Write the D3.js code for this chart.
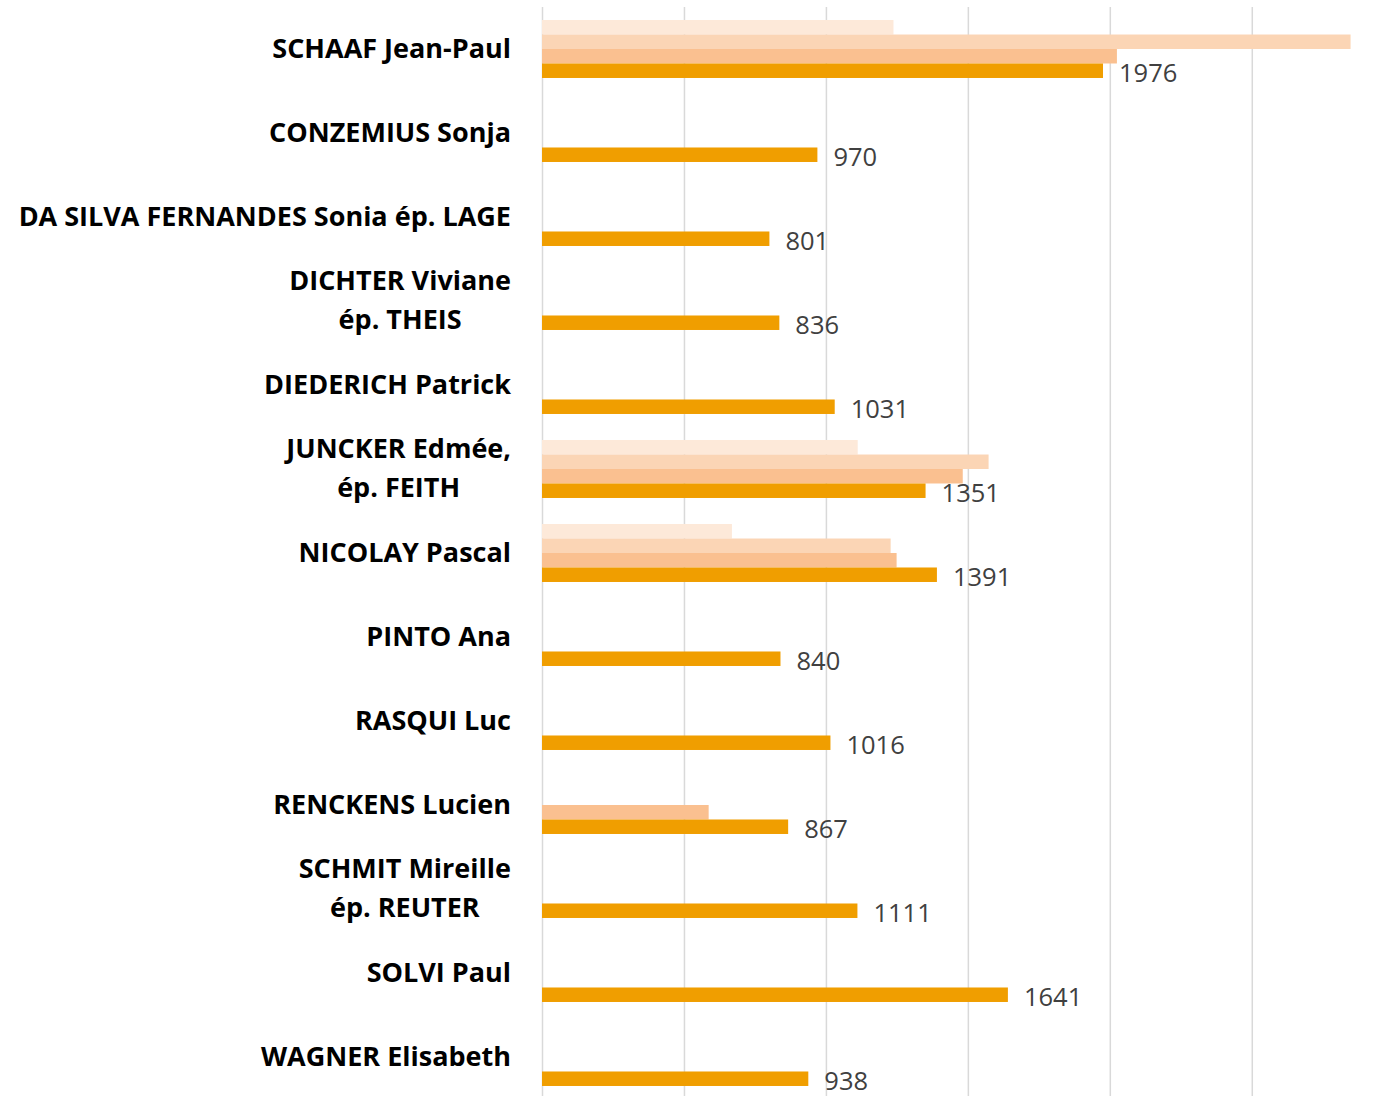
<!DOCTYPE html>
<html>
<head>
<meta charset="utf-8">
<script src="https://cdn.jsdelivr.net/npm/d3@7"></script>
<style>
  body { margin: 0; background: #fff; }
  svg { display: block; }
  .cat { font-family: "Open Sans", sans-serif; font-weight: bold; font-size: 27px; fill: #000; }
  .val { font-family: "Open Sans", sans-serif; font-size: 25.5px; fill: #404040; }
</style>
</head>
<body>
<div class="chart-box"></div>
<script>
/* global d3 */

// category labels (lines split where the original wraps)
const names = [
  ["SCHAAF Jean-Paul"],
  ["CONZEMIUS Sonja"],
  ["DA SILVA FERNANDES Sonia ép. LAGE"],
  ["DICHTER Viviane", "ép. THEIS"],
  ["DIEDERICH Patrick"],
  ["JUNCKER Edmée,", "ép. FEITH"],
  ["NICOLAY Pascal"],
  ["PINTO Ana"],
  ["RASQUI Luc"],
  ["RENCKENS Lucien"],
  ["SCHMIT Mireille", "ép. REUTER"],
  ["SOLVI Paul"],
  ["WAGNER Elisabeth"]
];

// four series, top (lightest) to bottom (darkest); null = no bar
const series1 = [1238, null, null, null, null, 1112, 669, null, null, null, null, null, null];
const series2 = [2848, null, null, null, null, 1573, 1228, null, null, null, null, null, null];
const series3 = [2025, null, null, null, null, 1482, 1249, null, null, 587, null, null, null];
const series4 = [1976, 970, 801, 836, 1031, 1351, 1391, 840, 1016, 867, 1111, 1641, 938];

const seriesKeys = ["s1", "s2", "s3", "s4"];
const seriesColors = ["#fde9d9", "#fbd5b5", "#fac090", "#f09e00"];

const width = 1386, height = 1096;
const plotLeft = 542, plotTop = 7;

const svg = d3.select(".chart-box")
  .append("svg")
  .attr("width", width)
  .attr("height", height);

const rows = names.map((n, i) => ({
  key: i,
  lines: n,
  s1: series1[i], s2: series2[i], s3: series3[i], s4: series4[i]
}));

const x = d3.scaleLinear()
  .domain([0, 3000])
  .range([plotLeft, plotLeft + 3000 * 0.28391]);

const y = d3.scaleBand()
  .domain(rows.map(d => d.key))
  .range([plotTop, plotTop + 84 * rows.length])
  .paddingInner(0.31)
  .paddingOuter(0.155);

const ySub = d3.scaleBand()
  .domain(seriesKeys)
  .range([0, y.bandwidth()]);

const color = d3.scaleOrdinal().domain(seriesKeys).range(seriesColors);

// vertical gridlines
svg.append("g")
  .attr("transform", "translate(0," + plotTop + ")")
  .call(d3.axisTop(x).tickValues(d3.range(0, 3001, 500)).tickSize(-(height - plotTop + 10)).tickFormat(""))
  .call(g => g.select(".domain").remove())
  .call(g => g.selectAll(".tick line").attr("stroke", "#d9d9d9").attr("stroke-width", 1.5));

// bars
const groups = svg.append("g")
  .selectAll("g")
  .data(rows)
  .join("g")
  .attr("transform", d => "translate(0," + y(d.key) + ")");

groups.selectAll("rect")
  .data(d => seriesKeys.filter(k => d[k] != null).map(k => ({ key: k, value: d[k] })))
  .join("rect")
  .attr("x", x(0))
  .attr("y", d => ySub(d.key))
  .attr("width", d => x(d.value) - x(0))
  .attr("height", ySub.bandwidth())
  .attr("fill", d => color(d.key));

// value labels on the darkest series
groups.append("text")
  .attr("class", "val")
  .attr("x", d => x(d.s4) + 16)
  .attr("y", ySub("s4") + ySub.bandwidth() / 2 + 1)
  .attr("dominant-baseline", "central")
  .text(d => d.s4);

// category labels: block right-aligned, lines centred on each other
const labelRight = 511;
const lineGap = 39;
const labels = svg.append("g")
  .selectAll("g")
  .data(rows)
  .join("g")
  .attr("transform", d => "translate(0," + (y(d.key) + y.bandwidth() / 2 - 2) + ")");

labels.each(function(d) {
  const g = d3.select(this);
  const texts = g.selectAll("text")
    .data(d.lines)
    .join("text")
    .attr("class", "cat")
    .attr("dominant-baseline", "central")
    .attr("y", (l, i) => (i - (d.lines.length - 1) / 2) * lineGap)
    .text(l => l);
  if (d.lines.length === 1) {
    texts.attr("x", labelRight).attr("text-anchor", "end");
  } else {
    const maxW = d3.max(texts.nodes(), n => n.getComputedTextLength());
    texts.attr("x", labelRight - maxW / 2).attr("text-anchor", "middle");
  }
});
</script>
</body>
</html>
